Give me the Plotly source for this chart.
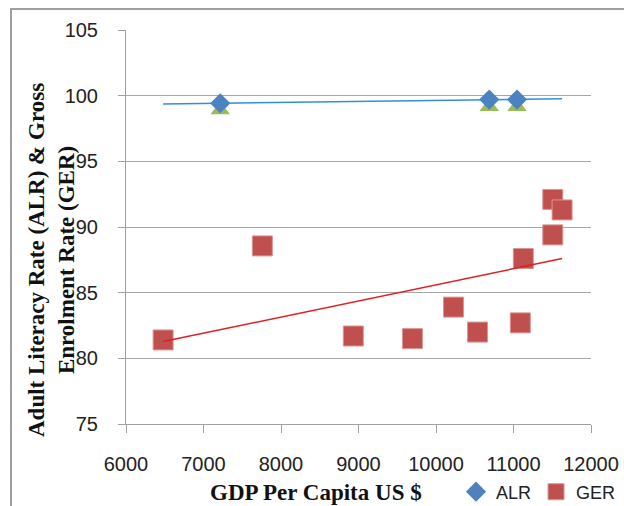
import numpy as np
import plotly.graph_objects as go

# GDP per capita (US $) and the two education indicators
alr_gdp = [7216, 10687, 11045]
alr_rate = [99.42, 99.7, 99.7]
alr_alt_rate = [98.9, 99.15, 99.15]

ger_gdp = [6479, 7759, 8933, 9696, 10226, 10536, 11088, 11127, 11507, 11507, 11627]
ger_rate = [81.4, 88.56, 81.7, 81.5, 83.9, 82.0, 82.7, 87.6, 89.4, 92.1, 91.3]

x_ticks = [6000, 7000, 8000, 9000, 10000, 11000, 12000]
y_ticks = [75, 80, 85, 90, 95, 100, 105]

# plot area in pixels (for placing the frame/titles)
W, H = 624, 506
L, R, T, B = 126, 591, 30, 424


def px_to_paper_x(px):
    return (px - L) / (R - L)


def px_to_paper_y(py):
    return (B - py) / (B - T)


# linear trend lines spanning the full GDP range
x_lo = min(ger_gdp + alr_gdp)
x_hi = max(ger_gdp + alr_gdp)
trend_x = np.array([x_lo, x_hi])
ger_fit = np.polyfit(ger_gdp, ger_rate, 1)
alr_fit = np.polyfit(alr_gdp, alr_rate, 1)

fig = go.Figure()

fig.add_trace(go.Scatter(
    x=alr_gdp, y=alr_alt_rate, mode="markers", showlegend=False,
    marker=dict(symbol="triangle-up", size=17, color="#9BBB59"),
))
fig.add_trace(go.Scatter(
    x=alr_gdp, y=alr_rate, mode="markers", name="ALR",
    marker=dict(symbol="diamond", size=15.5, color="#4F81BD"),
))
fig.add_trace(go.Scatter(
    x=ger_gdp, y=ger_rate, mode="markers", name="GER",
    marker=dict(symbol="square", size=20, color="#C0504D",
                line=dict(color="#D99694", width=1)),
))
fig.add_trace(go.Scatter(
    x=trend_x, y=np.polyval(alr_fit, trend_x), mode="lines", showlegend=False,
    line=dict(color="#2F8FD8", width=1.5),
))
fig.add_trace(go.Scatter(
    x=trend_x, y=np.polyval(ger_fit, trend_x), mode="lines", showlegend=False,
    line=dict(color="#E02020", width=1.5),
))

tick_font = dict(family="Liberation Sans, Arial, sans-serif", size=20, color="#222222")
title_font = dict(family="Liberation Serif, Times New Roman, serif", size=23, color="#111111")

fig.update_layout(
    width=W, height=H,
    margin=dict(l=L, r=W - R, t=T, b=H - B, autoexpand=False),
    paper_bgcolor="white", plot_bgcolor="white",
    xaxis=dict(
        range=[6000, 12000], tickvals=x_ticks, ticktext=[str(v) for v in x_ticks],
        showgrid=False, zeroline=False, showline=True, linecolor="#A0A0A0", linewidth=1,
        ticks="outside", ticklen=8, tickcolor="#A0A0A0", tickfont=tick_font,
        ticklabelstandoff=14, automargin=False,
    ),
    yaxis=dict(
        range=[75, 105], tickvals=y_ticks, ticktext=[str(v) for v in y_ticks],
        showgrid=True, gridcolor="#A6A6A6", gridwidth=1, zeroline=False,
        showline=True, linecolor="#A0A0A0", linewidth=1,
        ticks="outside", ticklen=7, tickcolor="#A0A0A0", tickfont=tick_font,
        ticklabelstandoff=16, automargin=False,
    ),
    legend=dict(
        orientation="h", xref="container", yref="container",
        x=456 / W, xanchor="left",
        y=(H - 492) / H, yanchor="middle",
        font=dict(family="Liberation Sans, Arial, sans-serif", size=18, color="#222222"),
        bgcolor="rgba(0,0,0,0)", itemwidth=30, tracegroupgap=0,
    ),
    showlegend=True,
    annotations=[
        dict(text="<b>GDP Per Capita US $</b>", xref="paper", yref="paper",
             x=px_to_paper_x(316), y=px_to_paper_y(492), xanchor="center", yanchor="middle",
             showarrow=False, font=title_font),
        dict(text="<b>Adult Literacy Rate (ALR) & Gross<br>Enrolment Rate (GER)</b>",
             xref="paper", yref="paper",
             x=px_to_paper_x(51), y=px_to_paper_y(260), xanchor="center", yanchor="middle",
             textangle=-90, showarrow=False, font=title_font),
    ],
    shapes=[
        dict(type="line", xref="paper", yref="paper",
             x0=px_to_paper_x(11), x1=px_to_paper_x(11),
             y0=px_to_paper_y(9), y1=px_to_paper_y(520),
             line=dict(color="#A0A0A0", width=2)),
        dict(type="line", xref="paper", yref="paper",
             x0=px_to_paper_x(10), x1=px_to_paper_x(640),
             y0=px_to_paper_y(9), y1=px_to_paper_y(9),
             line=dict(color="#A0A0A0", width=2)),
    ],
)

fig.write_html("out.html")
